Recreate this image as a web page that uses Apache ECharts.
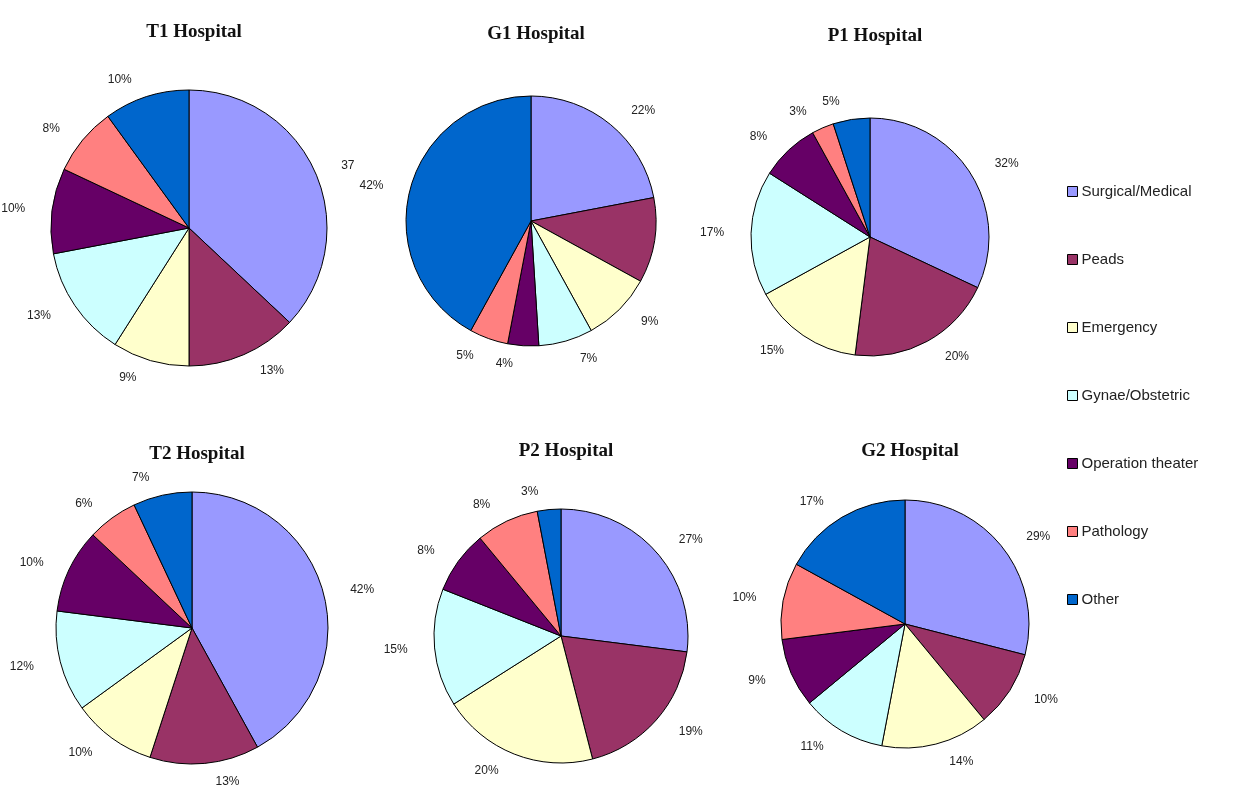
<!DOCTYPE html>
<html>
<head>
<meta charset="utf-8">
<title>Hospital departments</title>
<script src="https://cdn.jsdelivr.net/npm/echarts@6/dist/echarts.min.js"></script>
<style>
  html, body { margin: 0; padding: 0; background: #fff; }
  #chart { width: 1241px; height: 810px; }
</style>
</head>
<body>
<div id="chart"></div>
<script>
// Departments, in slice order (clockwise from 12 o'clock)
const categories = ['Surgical/Medical', 'Peads', 'Emergency', 'Gynae/Obstetric', 'Operation theater', 'Pathology', 'Other'];
const colors = ['#9999FF', '#993366', '#FFFFCC', '#CCFFFF', '#660066', '#FF8080', '#0066CC'];

// Share (%) of each department, per hospital
const t1 = [37, 13, 9, 13, 10, 8, 10];
const g1 = [22, 11, 9, 7, 4, 5, 42];
const p1 = [32, 20, 15, 17, 8, 3, 5];
const t2 = [42, 13, 10, 12, 10, 6, 7];
const p2 = [27, 19, 20, 15, 8, 8, 3];
const g2 = [29, 10, 14, 11, 9, 10, 17];

// Slices whose label is printed without the percent sign
const bareLabels = { 'T1 Hospital': [0] };

// Layout of each pie: [name, values, centerX, centerY, radius, titleY]
const pies = [
  ['T1 Hospital', t1, 189, 228, 138, 18],
  ['G1 Hospital', g1, 531, 221, 125, 20],
  ['P1 Hospital', p1, 870, 237, 119, 22],
  ['T2 Hospital', t2, 192, 628, 136, 440],
  ['P2 Hospital', p2, 561, 636, 127, 437],
  ['G2 Hospital', g2, 905, 624, 124, 437]
];

const chart = echarts.init(document.getElementById('chart'), null, { renderer: 'canvas' });

const option = {
  animation: false,
  color: colors,
  title: pies.map(p => ({
    text: p[0],
    left: p[2],
    top: p[5],
    textAlign: 'center',
    textStyle: { fontFamily: 'Liberation Serif', fontWeight: 'bold', fontSize: 19, color: '#111' }
  })),
  legend: {
    orient: 'vertical',
    left: 1062,
    top: 179,
    itemGap: 53,
    itemWidth: 10,
    itemHeight: 10,
    icon: 'rect',
    selectedMode: false,
    data: categories,
    itemStyle: { borderColor: '#000', borderWidth: 1 },
    textStyle: { fontFamily: 'Liberation Sans', fontSize: 15, color: '#222', padding: [0, 0, 0, -1] }
  },
  series: pies.map(p => ({
    type: 'pie',
    name: p[0],
    center: [p[2], p[3]],
    radius: p[4],
    startAngle: 90,
    clockwise: true,
    avoidLabelOverlap: false,
    itemStyle: { borderColor: '#000', borderWidth: 1 },
    emphasis: { disabled: true },
    label: {
      show: true,
      position: 'outside',
      fontFamily: 'Liberation Sans',
      fontSize: 12,
      color: '#222',
      formatter: prm => ((bareLabels[prm.seriesName] || []).includes(prm.dataIndex)
        ? String(prm.value) : prm.value + '%')
    },
    labelLine: { show: false, length: 18, length2: 4 },
    data: categories.map((c, i) => ({ name: c, value: p[1][i] }))
  }))
};

chart.setOption(option);
</script>
</body>
</html>
